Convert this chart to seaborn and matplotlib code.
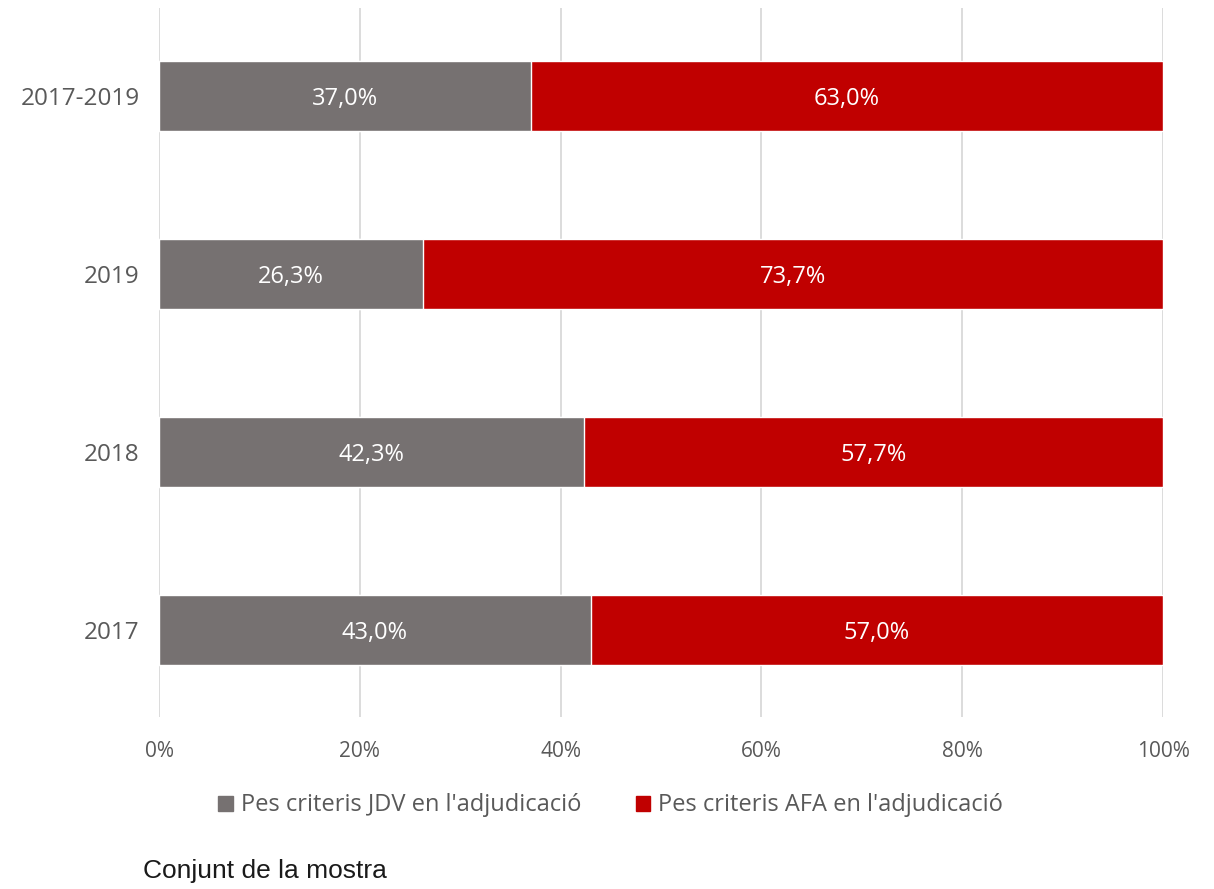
import matplotlib
matplotlib.use("Agg")
import matplotlib.pyplot as plt
import seaborn as sns
import pandas as pd
from matplotlib.patches import Patch
from matplotlib.ticker import FuncFormatter

periods = ["2017-2019", "2019", "2018", "2017"]
jdv = [37.0, 26.3, 42.3, 43.0]
afa = [63.0, 73.7, 57.7, 57.0]
series_names = ["Pes criteris JDV en l'adjudicació", "Pes criteris AFA en l'adjudicació"]

GREY = "#767171"
RED = "#C00000"
TEXT = "#595959"

sns.set_theme(style="white")
plt.rcParams["font.family"] = ["Open Sans", "DejaVu Sans"]

df = pd.DataFrame({"period": periods, "jdv": jdv, "afa": afa})
df["total"] = df["jdv"] + df["afa"]

fig = plt.figure(figsize=(12.14, 8.89), dpi=100)
ax = fig.add_axes([0.131, 0.1935, 0.827, 0.7975])

# stacked horizontal bars: full-length AFA bar underneath, JDV share on top
sns.barplot(data=df, x="total", y="period", order=periods, color=RED,
            width=0.393, saturation=1, ax=ax, zorder=2)
sns.barplot(data=df, x="jdv", y="period", order=periods, color=GREY,
            width=0.393, saturation=1, ax=ax, zorder=3)

for i, (a, b) in enumerate(zip(jdv, afa)):
    ax.text(a / 2, i, f"{a:.1f}%".replace(".", ","), ha="center", va="center_baseline",
            color="white", fontsize=17, zorder=4)
    ax.text(a + b / 2, i, f"{b:.1f}%".replace(".", ","), ha="center", va="center_baseline",
            color="white", fontsize=17, zorder=4)

ax.set_xlim(0, 100)
ax.set_ylim(3.49, -0.494)
ax.set_xticks([0, 20, 40, 60, 80, 100])
ax.xaxis.set_major_formatter(FuncFormatter(lambda v, p: f"{v:.0f}%"))
ax.grid(axis="x", color="#d9d9d9", linewidth=1.3, zorder=0)
ax.set_axisbelow(True)
for s in ax.spines.values():
    s.set_visible(False)
ax.set_xlabel("")
ax.set_ylabel("")
ax.tick_params(axis="x", colors=TEXT, labelsize=15, length=0, pad=17)
ax.tick_params(axis="y", colors=TEXT, labelsize=17.5, length=0, pad=14)

handles = [Patch(color=GREY), Patch(color=RED)]
leg = fig.legend(handles, series_names, loc="center", bbox_to_anchor=(0.503, 0.094),
                 ncol=2, frameon=False, fontsize=17, handlelength=0.6,
                 handleheight=0.6, handletextpad=0.35, columnspacing=2.3,
                 labelcolor=TEXT)

fig.text(0.118, 0.0125, "Conjunt de la mostra", fontsize=19, color="#1a1a1a",
         family=["Liberation Sans", "DejaVu Sans"], ha="left", va="baseline")

fig.savefig("out.png", dpi=100)
